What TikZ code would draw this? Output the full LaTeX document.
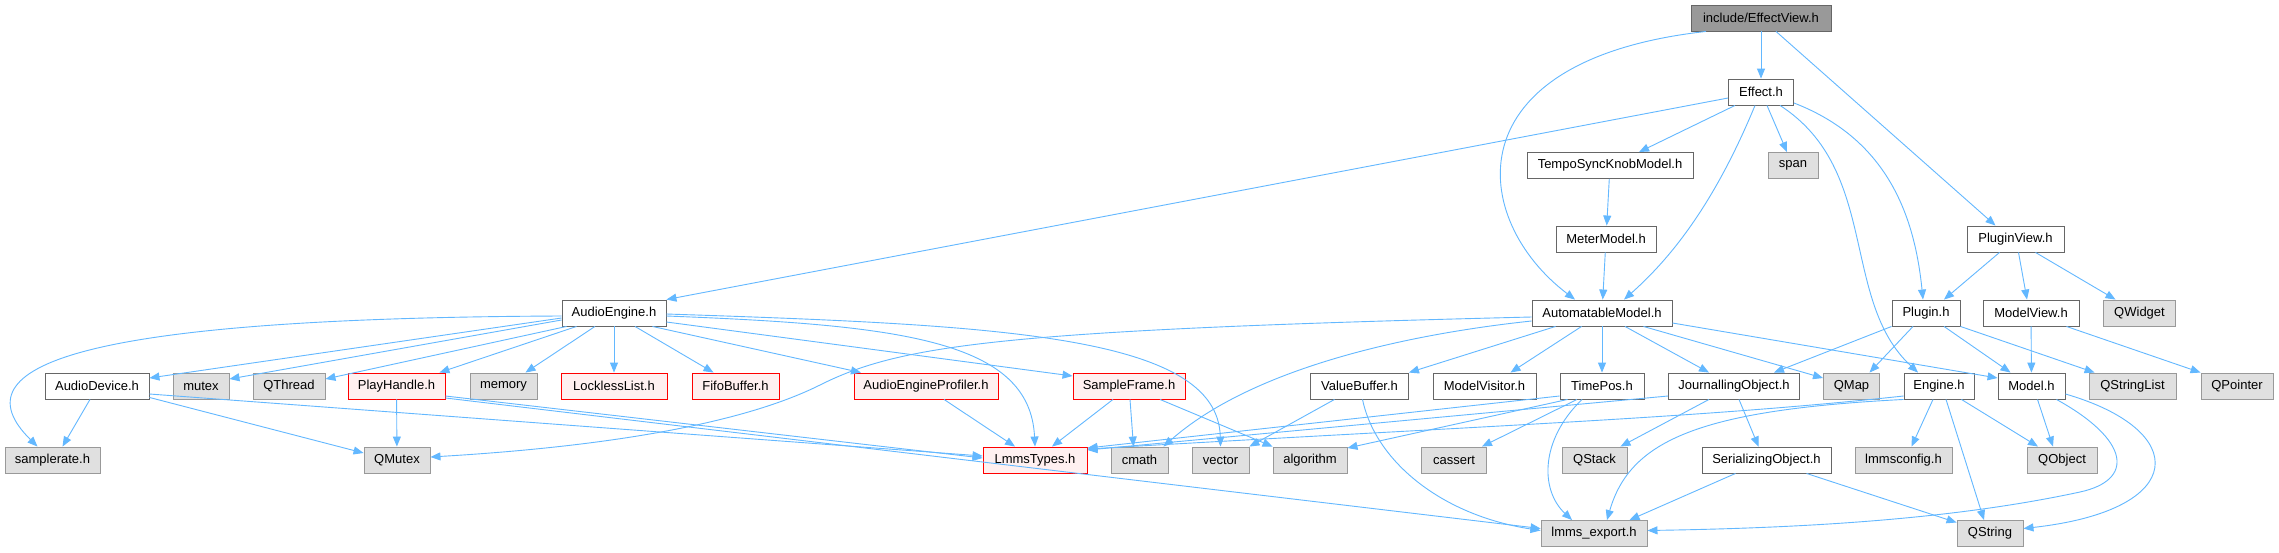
\documentclass[tikz,border=0pt]{standalone}
\usepackage{fontspec}
\setmainfont{Liberation Sans}
\usetikzlibrary{arrows.meta,calc}
\definecolor{edgeblue}{HTML}{63B8FF}
\definecolor{wborder}{HTML}{666666}
\definecolor{gfill}{HTML}{E0E0E0}
\definecolor{gborder}{HTML}{999999}
\definecolor{rfill}{HTML}{FFF0F0}
\definecolor{rborder}{HTML}{FF0000}
\definecolor{topfill}{HTML}{999999}
\begin{document}
\begin{tikzpicture}[x=1pt,y=-1pt,
  nbox/.style={rectangle, inner sep=0pt, minimum height=26pt, line width=0.9pt,
    font=\fontsize{13}{15}\selectfont, text=black},
  wnode/.style={nbox, draw=wborder, fill=white},
  gnode/.style={nbox, draw=gborder, fill=gfill},
  rnode/.style={nbox, draw=rborder, fill=rfill},
  topnode/.style={nbox, draw=wborder, fill=topfill},
  dep/.style={draw=edgeblue, line width=0.9pt, -{Triangle[length=10pt,width=8pt]}, edgeblue}
]
\fill[white] (0,0) rectangle (2279,552);
\useasboundingbox (0,0) rectangle (2279,552);

% row 0-3
\node[topnode, minimum width=140pt] (ev) at (1761,18) {include/EffectView.h};
\node[wnode, minimum width=65pt] (eff) at (1761,92) {Effect.h};
\node[wnode, minimum width=166pt] (tsk) at (1610,165.5) {TempoSyncKnobModel.h};
\node[gnode, minimum width=50pt] (span) at (1793,165.5) {span};
\node[wnode, minimum width=100pt] (mm) at (1606,239) {MeterModel.h};
\node[wnode, minimum width=97pt] (pv) at (2015.5,239) {PluginView.h};
% row 4
\node[wnode, minimum width=104pt] (ae) at (614,313) {AudioEngine.h};
\node[wnode, minimum width=140pt] (am) at (1602,313) {AutomatableModel.h};
\node[wnode, minimum width=68pt] (pl) at (1926,313) {Plugin.h};
\node[wnode, minimum width=96pt] (mv) at (2031,313) {ModelView.h};
\node[gnode, minimum width=72pt] (qw) at (2139.5,313) {QWidget};
% row 5
\node[wnode, minimum width=104pt] (ad) at (97,386) {AudioDevice.h};
\node[gnode, minimum width=56pt] (mutex) at (201,386) {mutex};
\node[gnode, minimum width=72pt] (qthread) at (289,386) {QThread};
\node[rnode, minimum width=97pt] (ph) at (396.5,386) {PlayHandle.h};
\node[gnode, minimum width=67pt] (memory) at (503.5,386) {memory};
\node[rnode, minimum width=106pt] (ll) at (614,386) {LocklessList.h};
\node[rnode, minimum width=87pt] (fb) at (735.5,386) {FifoBuffer.h};
\node[rnode, minimum width=144pt] (aep) at (926,386) {AudioEngineProfiler.h};
\node[rnode, minimum width=112pt] (sf) at (1129,386) {SampleFrame.h};
\node[wnode, minimum width=98pt] (vb) at (1359.5,386) {ValueBuffer.h};
\node[wnode, minimum width=103pt] (mvis) at (1484.5,386) {ModelVisitor.h};
\node[wnode, minimum width=84pt] (tp) at (1602,386) {TimePos.h};
\node[wnode, minimum width=131pt] (jo) at (1734,386) {JournallingObject.h};
\node[gnode, minimum width=56pt] (qmap) at (1851.5,386) {QMap};
\node[wnode, minimum width=70pt] (eng) at (1939,386) {Engine.h};
\node[wnode, minimum width=67pt] (model) at (2031.5,386) {Model.h};
\node[gnode, minimum width=87pt] (qsl) at (2132.5,386) {QStringList};
\node[gnode, minimum width=72pt] (qp) at (2237,386) {QPointer};
% row 6
\node[gnode, minimum width=95pt] (sr) at (52.5,460) {samplerate.h};
\node[gnode, minimum width=66pt] (qmutex) at (397,460) {QMutex};
\node[rnode, minimum width=104pt] (lt) at (1035,460) {LmmsTypes.h};
\node[gnode, minimum width=57pt] (cmath) at (1139.5,460) {cmath};
\node[gnode, minimum width=57pt] (vector) at (1220.5,460) {vector};
\node[gnode, minimum width=74pt] (algorithm) at (1310,460) {algorithm};
\node[gnode, minimum width=65pt] (cassert) at (1454,460) {cassert};
\node[gnode, minimum width=65pt] (qstack) at (1594.5,460) {QStack};
\node[wnode, minimum width=129pt] (so) at (1766.5,460) {SerializingObject.h};
\node[gnode, minimum width=97pt] (lc) at (1903.5,460) {lmmsconfig.h};
\node[gnode, minimum width=70pt] (qobj) at (2062,460) {QObject};
% row 7
\node[gnode, minimum width=106pt] (le) at (1594,533.5) {lmms\_export.h};
\node[gnode, minimum width=66pt] (qs) at (1990,533.5) {QString};

% EffectView
\draw[dep] (ev) -- (eff);
\draw[dep] ($(ev.south)+(-55,0)$) .. controls (1450,60) and (1470,220) .. ($(am.north)+(-27,0)$);
\draw[dep] ($(ev.south)+(15,0)$) -- ($(pv.north)+(-20,0)$);
% Effect
\draw[dep] ($(eff.west)+(0,6)$) -- (ae.north east);
\draw[dep] ($(eff.south)+(-26,0)$) -- ($(tsk.north)+(29,0)$);
\draw[dep] ($(eff.south)+(6,0)$) -- ($(span.north)+(-6,0)$);
\draw[dep] ($(eff.south)+(-6,0)$) .. controls (1720,190) and (1680,250) .. ($(am.north)+(22,0)$);
\draw[dep] ($(eff.south)+(19,0)$) .. controls (1880,170) and (1840,300) .. ($(eng.north)+(-21,0)$);
\draw[dep] ($(eff.east)+(0,11)$) .. controls (1890,140) and (1915,220) .. ($(pl.north)+(-3,0)$);
\draw[dep] (tsk) -- (mm);
\draw[dep] (mm) -- (am);
% PluginView
\draw[dep] ($(pv.south)+(-16,0)$) -- ($(pl.north)+(18,0)$);
\draw[dep] ($(pv.south)+(3,0)$) -- ($(mv.north)+(-4,0)$);
\draw[dep] ($(pv.south)+(20,0)$) -- ($(qw.north)+(-24,0)$);
% AutomatableModel
\draw[dep] ($(am.west)+(0,4)$) .. controls (1000,330) and (900,345) .. (820,385) .. controls (740,425) and (600,447) .. ($(qmutex.east)+(0,-3)$);
\draw[dep] ($(am.west)+(0,8)$) .. controls (1400,335) and (1250,370) .. ($(cmath.north east)+(-5,0)$);
\draw[dep] ($(am.south west)+(24,0)$) -- (vb.north east);
\draw[dep] ($(am.south west)+(50,0)$) -- ($(mvis.north)+(26,0)$);
\draw[dep] (am) -- (tp);
\draw[dep] ($(am.south)+(23,0)$) -- ($(jo.north)+(-25,0)$);
\draw[dep] ($(am.south east)+(-29,0)$) -- ($(qmap.west)+(0,-8)$);
\draw[dep] ($(am.east)+(0,10)$) -- ($(model.west)+(0,-8)$);
% Plugin
\draw[dep] (pl.south west) -- ($(jo.north)+(40,0)$);
\draw[dep] ($(pl.south)+(-13,0)$) -- ($(qmap.north)+(18,0)$);
\draw[dep] ($(pl.south)+(18,0)$) -- ($(model.north)+(-21,0)$);
\draw[dep] (pl.south east) -- ($(qsl.north west)+(6,0)$);
% ModelView
\draw[dep] (mv) -- (model);
\draw[dep] ($(mv.south east)+(-13,0)$) -- (qp.north west);
% AudioEngine
\draw[dep] ($(ae.west)+(0,3)$) .. controls (80,318) and (-45,365) .. ($(sr.north)+(-15,0)$);
\draw[dep] ($(ae.west)+(0,5)$) -- ($(ad.east)+(0,-8)$);
\draw[dep] ($(ae.west)+(0,7)$) -- ($(mutex.east)+(0,-7)$);
\draw[dep] ($(ae.south west)+(5,0)$) -- ($(qthread.east)+(0,-7)$);
\draw[dep] ($(ae.south west)+(15,0)$) -- ($(ph.north east)+(-6,0)$);
\draw[dep] ($(ae.south)+(-19,0)$) -- ($(memory.north)+(22,0)$);
\draw[dep] (ae) -- (ll);
\draw[dep] ($(ae.south)+(21,0)$) -- ($(fb.north)+(-22,0)$);
\draw[dep] ($(ae.south east)+(-14,0)$) -- ($(aep.north)+(-65,0)$);
\draw[dep] ($(ae.east)+(0,9)$) -- ($(sf.west)+(0,-10)$);
\draw[dep] ($(ae.east)+(0,3)$) .. controls (900,325) and (1030,340) .. (lt.north);
\draw[dep] ($(ae.east)+(0,1)$) .. controls (1000,325) and (1218,335) .. (vector.north);
% AudioDevice
\draw[dep] ($(ad.south)+(-7,0)$) -- ($(sr.north)+(10,0)$);
\draw[dep] ($(ad.south east)+(0,-2)$) -- ($(qmutex.west)+(0,-7)$);
\draw[dep] ($(ad.east)+(0,8)$) -- ($(lt.west)+(0,-4)$);
% PlayHandle
\draw[dep] (ph) -- (qmutex);
\draw[dep] ($(ph.east)+(0,10)$) -- ($(lt.west)+(0,-2)$);
\draw[dep] ($(ph.east)+(0,12)$) -- ($(le.west)+(0,-5)$);
% AudioEngineProfiler, SampleFrame
\draw[dep] ($(aep.south)+(18,0)$) -- ($(lt.north)+(-20,0)$);
\draw[dep] ($(sf.south)+(-16,0)$) -- ($(lt.north)+(17,0)$);
\draw[dep] ($(sf.south)+(1,0)$) -- ($(cmath.north)+(-6,0)$);
\draw[dep] ($(sf.south)+(31,0)$) -- (algorithm.north west);
% ValueBuffer
\draw[dep] ($(vb.south)+(-25,0)$) -- (vector.north east);
\draw[dep] ($(vb.south)+(3,0)$) .. controls (1375,460) and (1440,515) .. ($(le.west)+(0,-3)$);
% TimePos
\draw[dep] ($(tp.west)+(0,10)$) -- ($(lt.east)+(0,-12)$);
\draw[dep] ($(tp.south west)+(8,0)$) -- ($(algorithm.east)+(0,-12)$);
\draw[dep] ($(tp.south)+(-25,0)$) -- ($(cassert.north east)+(-5,0)$);
\draw[dep] ($(tp.south)+(-20,0)$) .. controls (1540,440) and (1540,490) .. ($(le.north)+(-22,0)$);
% JournallingObject
\draw[dep] ($(jo.west)+(0,10)$) -- ($(lt.east)+(0,-10)$);
\draw[dep] ($(jo.south)+(-25,0)$) -- ($(qstack.north east)+(-7,0)$);
\draw[dep] ($(jo.south)+(5,0)$) -- ($(so.north)+(-8,0)$);
% SerializingObject
\draw[dep] ($(so.south)+(-31,0)$) -- ($(le.north east)+(-18,0)$);
\draw[dep] ($(so.south)+(40,0)$) -- ($(qs.west)+(0,-11)$);
% Engine
\draw[dep] ($(eng.west)+(0,10)$) .. controls (1700,418) and (1500,425) .. ($(lt.east)+(0,-11)$);
\draw[dep] (eng.south west) .. controls (1700,410) and (1630,440) .. ($(le.north)+(13,0)$);
\draw[dep] ($(eng.south)+(-6,0)$) -- ($(lc.north)+(8,0)$);
\draw[dep] ($(eng.south)+(7,0)$) -- ($(qs.north)+(-6,0)$);
\draw[dep] ($(eng.south east)+(-13,0)$) -- ($(qobj.north)+(-24,0)$);
% Model
\draw[dep] ($(model.south)+(6,0)$) -- ($(qobj.north)+(-9,0)$);
\draw[dep] ($(model.south east)+(-9,0)$) .. controls (2130,440) and (2135,480) .. (2080,492) .. controls (1950,520) and (1800,528) .. ($(le.east)+(0,-3)$);
\draw[dep] ($(model.east)+(0,8)$) .. controls (2190,430) and (2190,510) .. ($(qs.east)+(0,-5)$);
\end{tikzpicture}
\end{document}
